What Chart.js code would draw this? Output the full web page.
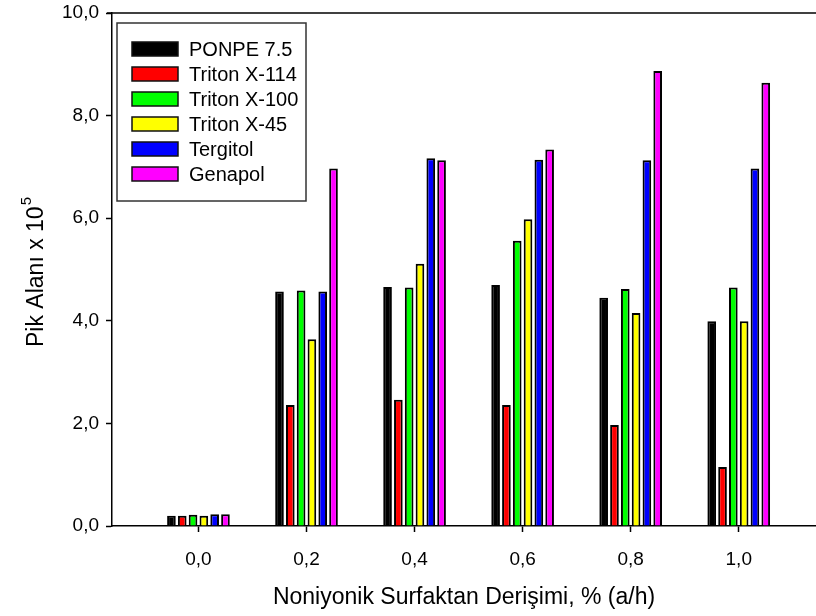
<!DOCTYPE html>
<html>
<head>
<meta charset="utf-8">
<script src="https://cdn.jsdelivr.net/npm/chart.js@4.4.1/dist/chart.umd.min.js"></script>
<style>
  html, body { margin: 0; padding: 0; background: #fff; }
  #myChart { display: block; }
</style>
</head>
<body>
<canvas id="myChart" width="816" height="616"></canvas>
<script>
// concentration values (% a/h) on the x axis
const concentrations = [0.0, 0.2, 0.4, 0.6, 0.8, 1.0];
const xTicks = [0.0, 0.2, 0.4, 0.6, 0.8, 1.0];
const yTicks = [0, 2, 4, 6, 8, 10];

const seriesNames = ['PONPE 7.5', 'Triton X-114', 'Triton X-100', 'Triton X-45', 'Tergitol', 'Genapol'];
const seriesColors = ['#000000', '#ff0000', '#00ff00', '#ffff00', '#0000ff', '#ff00ff'];

// peak areas x 10^5
const ponpe = [0.20, 4.57, 4.66, 4.70, 4.45, 3.99];
const tritonX114 = [0.20, 2.36, 2.46, 2.36, 1.97, 1.15];
const tritonX100 = [0.22, 4.59, 4.65, 5.56, 4.62, 4.65];
const tritonX45 = [0.20, 3.64, 5.11, 5.98, 4.15, 3.99];
const tergitol = [0.23, 4.57, 7.17, 7.14, 7.13, 6.97];
const genapol = [0.23, 6.97, 7.13, 7.34, 8.87, 8.64];

const seriesValues = [ponpe, tritonX114, tritonX100, tritonX45, tergitol, genapol];

const FONT = 'Arial, "Liberation Sans", sans-serif';

function commaLabel(v) {
    return Number(v).toFixed(1).replace('.', ',');
}

const datasets = seriesNames.map(function(name, i) {
    return {
        label: name,
        data: concentrations.map((c, j) => ({ x: c, y: seriesValues[i][j] })),
        backgroundColor: seriesColors[i],
        borderColor: '#000000',
        borderWidth: 2,
        borderSkipped: 'bottom',
        categoryPercentage: 0.6,
        barPercentage: 0.8
    };
});

// top frame line, the boxed legend and the y title with its superscript
const frameAndLegend = {
    id: 'frameAndLegend',
    afterDraw(chart) {
        const c = chart.ctx;
        const area = chart.chartArea;
        c.save();
        c.strokeStyle = '#000';
        c.lineWidth = 1.5;
        c.beginPath();
        c.moveTo(area.left - 5, area.top);
        c.lineTo(area.right, area.top);
        c.stroke();

        // legend box
        c.strokeStyle = '#333';
        c.lineWidth = 1.5;
        c.strokeRect(117, 23, 189, 178);
        c.font = '20px ' + FONT;
        c.textBaseline = 'middle';
        c.textAlign = 'left';
        chart.data.datasets.forEach(function(ds, i) {
            const cy = 49 + i * 25;
            c.fillStyle = ds.backgroundColor;
            c.fillRect(132, cy - 7, 46, 14);
            c.strokeStyle = '#111';
            c.lineWidth = 1.5;
            c.strokeRect(132, cy - 7, 46, 14);
            c.fillStyle = '#000';
            c.fillText(ds.label, 189, cy + 1);
        });

        // rotated y title: Pik Alanı x 10^5
        const main = 'Pik Alanı x 10';
        const sup = '5';
        c.font = '23px ' + FONT;
        const wMain = c.measureText(main).width;
        c.font = '15px ' + FONT;
        const wSup = c.measureText(sup).width;
        const total = wMain + wSup + 1;
        c.translate(37, 272);
        c.rotate(-Math.PI / 2);
        c.fillStyle = '#000';
        c.textAlign = 'left';
        c.textBaseline = 'middle';
        c.font = '23px ' + FONT;
        c.fillText(main, -total / 2, 0);
        c.font = '15px ' + FONT;
        c.fillText(sup, -total / 2 + wMain + 1, -10);
        c.restore();
    }
};

const ctx = document.getElementById('myChart').getContext('2d');
const myChart = new Chart(ctx, {
    type: 'bar',
    data: { datasets: datasets },
    options: {
        responsive: false,
        animation: false,
        layout: { padding: { top: 13, right: 0, left: 0, bottom: 0 } },
        plugins: {
            legend: { display: false },
            tooltip: { enabled: false }
        },
        scales: {
            x: {
                type: 'linear',
                offset: false,
                min: -0.16,
                max: 1.143,
                afterFit: function(scale) {
                    scale.height = 90;
                    scale.paddingLeft = 0;
                    scale.paddingRight = 0;
                },
                afterBuildTicks: function(scale) {
                    scale.ticks = xTicks.map(v => ({ value: v }));
                },
                grid: {
                    offset: false,
                    drawOnChartArea: false,
                    drawTicks: true,
                    tickLength: 6,
                    tickWidth: 1.5,
                    tickColor: '#000'
                },
                border: { display: true, color: '#000', width: 1.5 },
                ticks: {
                    padding: 16,
                    color: '#000',
                    font: { family: FONT, size: 19 },
                    maxRotation: 0,
                    callback: function(v) { return commaLabel(v); }
                },
                title: {
                    display: true,
                    text: 'Noniyonik Surfaktan Derişimi, % (a/h)',
                    color: '#000',
                    font: { family: FONT, size: 23 },
                    padding: { top: 0, bottom: 5 }
                }
            },
            y: {
                min: 0,
                max: 10,
                afterFit: function(scale) {
                    scale.width = 112;
                    scale.paddingTop = 0;
                    scale.paddingBottom = 0;
                },
                afterBuildTicks: function(scale) {
                    scale.ticks = yTicks.map(v => ({ value: v }));
                },
                grid: {
                    drawOnChartArea: false,
                    drawTicks: true,
                    tickLength: 6,
                    tickWidth: 1.5,
                    tickColor: '#000'
                },
                border: { display: true, color: '#000', width: 1.5 },
                ticks: {
                    padding: 7,
                    color: '#000',
                    font: { family: FONT, size: 19 },
                    callback: function(v) { return commaLabel(v); }
                }
            }
        }
    },
    plugins: [frameAndLegend]
});
</script>
</body>
</html>
